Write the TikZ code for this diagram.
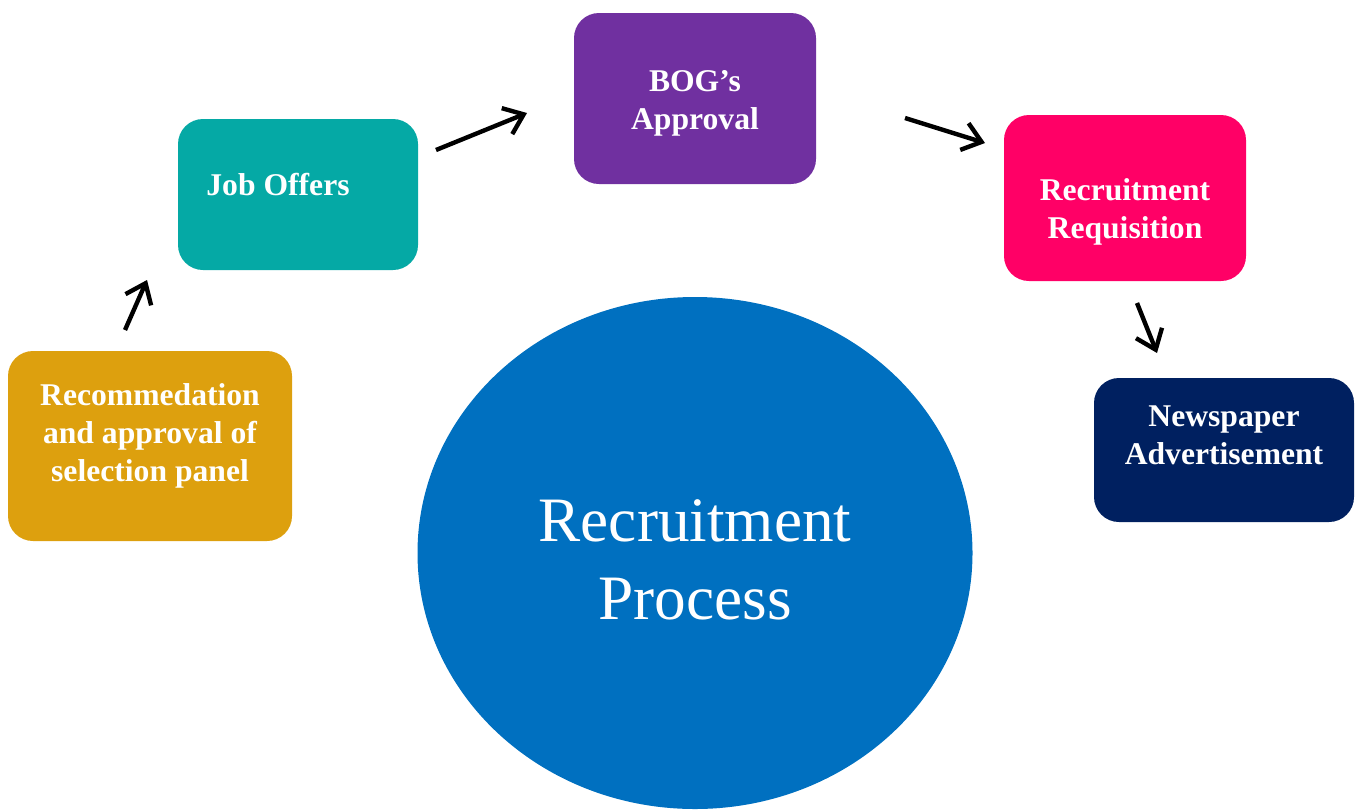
\documentclass[tikz,border=0pt]{standalone}
\usepackage{fontspec}
\setmainfont{Liberation Serif}
\usetikzlibrary{arrows.meta,shapes.geometric}
\definecolor{jobTeal}{HTML}{05A9A5}
\definecolor{bogPurple}{HTML}{7030A0}
\definecolor{reqPink}{HTML}{FF0066}
\definecolor{newsNavy}{HTML}{002060}
\definecolor{recGold}{HTML}{DDA00E}
\definecolor{coreBlue}{HTML}{0070C0}
\tikzset{
  stage/.style={rounded corners=0.25cm, inner sep=0pt},
  lbl/.style={text=white, align=center, font=\fontsize{9}{10.9}\selectfont\bfseries},
  flow/.style={line width=1.25pt, -{Straight Barb[length=1.8mm, width=2.8mm, line width=1.25pt]}}
}
\begin{document}
\begin{tikzpicture}
\useasboundingbox (0,0) rectangle (13.57,8.10);
\node[ellipse, fill=coreBlue, inner sep=0pt, minimum width=5.55cm, minimum height=5.12cm, text=white, align=center,
  font=\fontsize{18}{22.3}\selectfont, text depth=0pt] (core) at (6.95,2.57) {};
\node[text=white, align=center, font=\fontsize{18}{22.3}\selectfont] (coreText) at (6.95,2.50) {Recruitment\\Process};
\node[stage, fill=recGold, minimum width=2.84cm, minimum height=1.90cm,
  label={[lbl, yshift=1.0mm]center:Recommedation\\and approval of\\selection panel}] (rec) at (1.50,3.64) {};
\node[stage, fill=jobTeal, minimum width=2.40cm, minimum height=1.51cm,
  label={[lbl, xshift=-2mm, yshift=1.0mm]center:Job Offers}] (jobs) at (2.98,6.155) {};
\node[stage, fill=bogPurple, minimum width=2.42cm, minimum height=1.71cm,
  label={[lbl, yshift=-0.5mm]center:BOG’s\\Approval}] (bog) at (6.95,7.115) {};
\node[stage, fill=reqPink, minimum width=2.42cm, minimum height=1.66cm,
  label={[lbl, yshift=-1.4mm]center:Recruitment\\Requisition}] (req) at (11.25,6.12) {};
\node[stage, fill=newsNavy, minimum width=2.60cm, minimum height=1.44cm,
  label={[lbl, yshift=1.5mm]center:Newspaper\\Advertisement}] (news) at (12.24,3.60) {};
% arrow ends
\coordinate (recOut) at (1.25,4.80);
\coordinate (jobsIn) at (1.47,5.30);
\coordinate (jobsOut) at (4.36,6.60);
\coordinate (bogIn) at (5.27,6.97);
\coordinate (bogOut) at (9.05,6.92);
\coordinate (reqIn) at (9.85,6.67);
\coordinate (reqOut) at (11.37,5.07);
\coordinate (newsIn) at (11.57,4.57);
\draw[flow] (recOut) -- (jobsIn);
\draw[flow] (jobsOut) -- (bogIn);
\draw[flow] (bogOut) -- (reqIn);
\draw[flow] (reqOut) -- (newsIn);
\end{tikzpicture}
\end{document}
